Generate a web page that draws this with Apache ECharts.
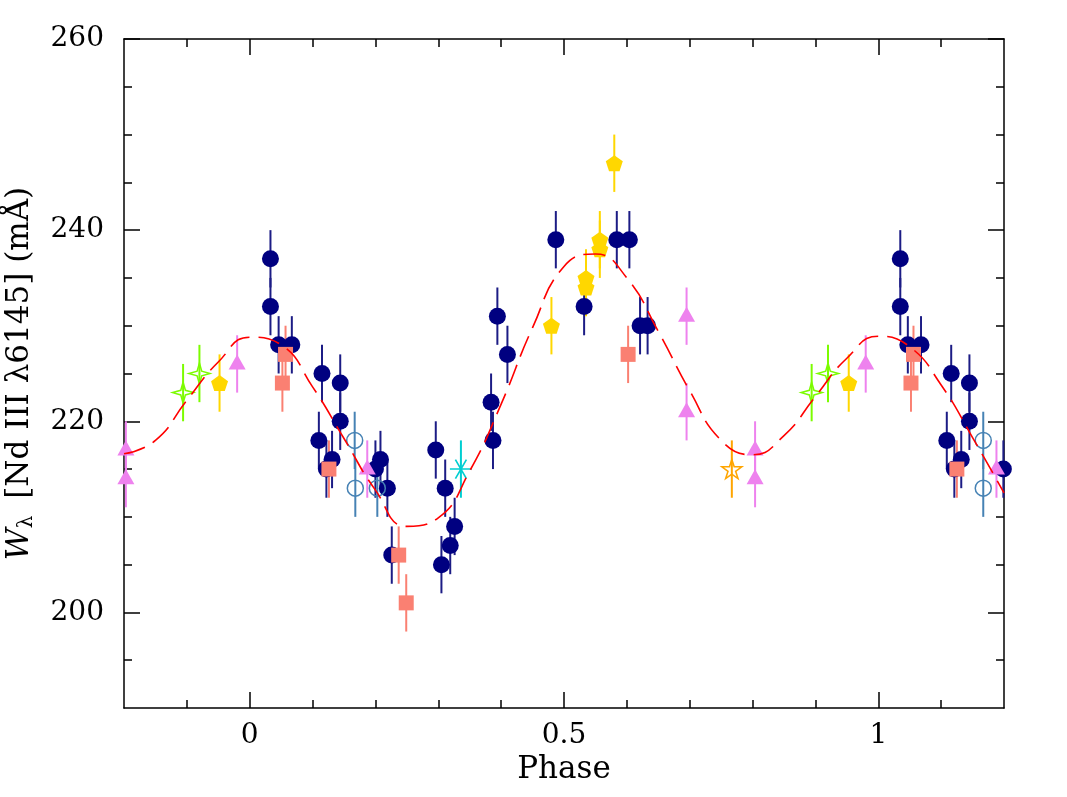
<!DOCTYPE html>
<html lang="en">
<head>
    <meta charset="UTF-8">
    <title>Nd III 6145 equivalent width vs phase</title>
    <style>
        html, body{
            margin: 0;
            padding: 0;
            background-color: #fff;
        }
        #main{
            width: 1067px;
            height: 797px;
        }
    </style>
    <script src="https://cdn.jsdelivr.net/npm/echarts@6.0.0/dist/echarts.min.js"></script>
</head>
<body>
<div id="main"></div>
<script type="text/javascript">
    var ERR = 3;
    var navyPts = [
        [0.033,237],[0.033,232],[0.046,228],[0.067,228],[0.115,225],[0.144,224],[0.144,220],[0.110,218],[0.131,216],[0.122,215],
        [0.200,215],[0.208,216],[0.219,213],[0.226,206],[0.296,217],[0.311,213],[0.326,209],[0.319,207],[0.305,205],
        [0.384,222],[0.387,218],[0.394,231],[0.410,227],[0.487,239],[0.532,232],[0.584,239],[0.604,239],[0.621,230],[0.633,230],
        [1.035,237],[1.035,232],[1.047,228],[1.068,228],[1.116,225],[1.145,224],[1.145,220],[1.109,218],[1.132,216],[1.121,215],[1.199,215]
    ];
    var goldPts = [[-0.048,224],[0.480,230],[0.535,235],[0.535,234],[0.557,239],[0.557,238],[0.580,247],[0.953,224]];
    var salmonPts = [[0.057,227],[0.052,224],[0.126,215],[0.237,206],[0.249,201],[0.602,227],[1.056,227],[1.052,224],[1.125,215]];
    var violetPts = [[-0.020,226],[-0.197,217],[-0.197,214],[0.187,215],[0.695,231],[0.695,221],[0.804,217],[0.804,214],[0.980,226],[1.188,215]];
    var greenPts = [[-0.106,223],[-0.080,225],[0.894,223],[0.920,225]];
    var orangePts = [[0.767,215]];
    var cyanPts = [[0.336,215]];
    var steelPts = [[0.167,218],[0.168,213],[0.203,213],[1.167,218],[1.167,213]];

    // dashed fit curve, sampled from the figure
    var fitPhase = [-0.2,-0.15,-0.1,-0.05,0,0.05,0.1,0.15,0.2,0.25,0.3,0.35,0.4,0.45,0.5,0.55,0.6,0.65,0.7,0.75,0.8,0.85,0.9,0.95,1.0,1.05,1.1,1.15,1.2];
    var fitW = [216.6,218.0,222.2,226.2,228.8,228.0,223.6,218.2,212.8,209.0,209.9,214.8,221.8,229.8,236.2,237.5,235.0,229.4,223.2,218.0,216.5,218.5,222.6,226.6,228.9,227.8,223.8,218.3,212.5];

    // ticks
    var xMajorTicks = [0, 0.5, 1];
    var xMinorTicks = [-0.1, 0.1, 0.2, 0.3, 0.4, 0.6, 0.7, 0.8, 0.9, 1.1];
    var yMajorTicks = [200, 220, 240, 260];
    var yMinorTicks = [195, 205, 210, 215, 225, 230, 235, 245, 250, 255];

    var FONT = 'DejaVu Serif';
    var myChart = echarts.init(document.getElementById('main'));

    function errSeries(pts, color){
        return {
            type: 'custom',
            data: pts.map(function(p){ return [p[0], p[1], ERR]; }),
            encode: {x: 0, y: 1},
            silent: true,
            renderItem: function(params, api){
                var x = api.value(0), y = api.value(1), e = api.value(2);
                var a = api.coord([x, y - e]), b = api.coord([x, y + e]);
                return {
                    type: 'line',
                    shape: {x1: a[0], y1: a[1], x2: b[0], y2: b[1]},
                    style: {stroke: color, lineWidth: 2}
                };
            }
        };
    }
    function markSeries(pts, symbol, size, itemStyle, offset){
        itemStyle.opacity = 1;
        return {
            type: 'scatter',
            data: pts.map(function(p){ return [p[0], p[1]]; }),
            symbol: symbol,
            symbolSize: size,
            symbolOffset: offset || [0, 0],
            itemStyle: itemStyle,
            silent: true
        };
    }

    var pentagon = 'path://M0,-1L0.951,-0.309L0.588,0.809L-0.588,0.809L-0.951,-0.309Z';
    var star5 = 'path://M0,-1L0.2245,-0.309L0.951,-0.309L0.363,0.118L0.588,0.809L0,0.382L-0.588,0.809L-0.363,0.118L-0.951,-0.309L-0.2245,-0.309Z';
    var star4 = 'path://M0,-1L0.22,-0.22L1,0L0.22,0.22L0,1L-0.22,0.22L-1,0L-0.22,-0.22Z';
    var asterisk = 'path://M-1,0L1,0M-0.5,-0.866L0.5,0.866M0.5,-0.866L-0.5,0.866';

    var series = [
        errSeries(navyPts, '#1c1c85'),
        markSeries(navyPts, 'circle', 17, {color: '#000080'}),
        errSeries(goldPts, '#FFD700'),
        markSeries(goldPts, pentagon, [17, 16], {color: '#FFD700'}),
        errSeries(salmonPts, '#FA8072'),
        markSeries(salmonPts, 'rect', 15, {color: '#FA8072'}),
        errSeries(violetPts, '#EE82EE'),
        markSeries(violetPts, 'triangle', [17, 15], {color: '#EE82EE'}, [0, -2]),
        errSeries(greenPts, '#7CFC00'),
        markSeries(greenPts, star4, 21, {color: 'rgba(0,0,0,0)', borderColor: '#7CFC00', borderWidth: 1.5}),
        errSeries(orangePts, '#FFA500'),
        markSeries(orangePts, star5, [20, 19], {color: 'rgba(0,0,0,0)', borderColor: '#FFA500', borderWidth: 1.5}),
        errSeries(cyanPts, '#00CED1'),
        markSeries(cyanPts, asterisk, [22, 19], {color: 'rgba(0,0,0,0)', borderColor: '#00CED1', borderWidth: 1.5}),
        errSeries(steelPts, '#4682B4'),
        markSeries(steelPts, 'circle', 16, {color: 'rgba(0,0,0,0)', borderColor: '#4682B4', borderWidth: 1.5}),
        {
            type: 'line',
            data: fitPhase.map(function(p, i){ return [p, fitW[i]]; }),
            showSymbol: false,
            smooth: true,
            z: 10,
            silent: true,
            lineStyle: {color: '#FF0000', width: 1.6, type: [22, 9]}
        }
    ];

    function xAxisDef(pos, ticks, len, showLine, withLabels){
        return {
            type: 'value', position: pos, min: -0.2, max: 1.2,
            axisLine: {show: showLine, onZero: false, lineStyle: {color: '#000', width: 1.5}},
            axisTick: {show: true, inside: true, length: len, customValues: ticks, lineStyle: {color: '#000', width: 1.5}},
            axisLabel: withLabels ? {show: true, customValues: ticks, margin: 14, color: '#000', fontSize: 28, fontFamily: FONT} : {show: false},
            splitLine: {show: false}
        };
    }
    function yAxisDef(pos, ticks, len, showLine, withLabels){
        return {
            type: 'value', position: pos, min: 190, max: 260,
            axisLine: {show: showLine, onZero: false, lineStyle: {color: '#000', width: 1.5}},
            axisTick: {show: true, inside: true, length: len, customValues: ticks, lineStyle: {color: '#000', width: 1.5}},
            axisLabel: withLabels ? {show: true, customValues: ticks, margin: 20, color: '#000', fontSize: 28, fontFamily: FONT} : {show: false},
            splitLine: {show: false}
        };
    }

    var xMain = xAxisDef('bottom', xMajorTicks, 16, true, true);
    xMain.name = 'Phase';
    xMain.nameLocation = 'middle';
    xMain.nameGap = 44;
    xMain.nameTextStyle = {color: '#000', fontSize: 31, fontFamily: FONT};

    var yMain = yAxisDef('left', yMajorTicks, 16, true, true);
    yMain.name = '{it|W}{sub|λ} [Nd III λ6145] (mÅ)';
    yMain.nameLocation = 'middle';
    yMain.nameGap = 87;
    yMain.nameTextStyle = {
        color: '#000', fontSize: 31, fontFamily: FONT,
        rich: {
            it: {fontStyle: 'italic', fontSize: 31, fontFamily: FONT, color: '#000'},
            sub: {fontSize: 20, fontFamily: FONT, color: '#000', verticalAlign: 'bottom', padding: [15, 7, 0, 0]}
        }
    };

    var option = {
        animation: false,
        backgroundColor: '#fff',
        grid: {left: 124, top: 39, right: 63, bottom: 89, containLabel: false, outerBoundsMode: 'none'},
        xAxis: [
            xMain,
            xAxisDef('bottom', xMinorTicks, 8, false, false),
            xAxisDef('top', xMajorTicks, 16, true, false),
            xAxisDef('top', xMinorTicks, 8, false, false)
        ],
        yAxis: [
            yMain,
            yAxisDef('left', yMinorTicks, 8, false, false),
            yAxisDef('right', yMajorTicks, 16, true, false),
            yAxisDef('right', yMinorTicks, 8, false, false)
        ],
        series: series
    };

    myChart.setOption(option);
</script>
</body>
</html>
